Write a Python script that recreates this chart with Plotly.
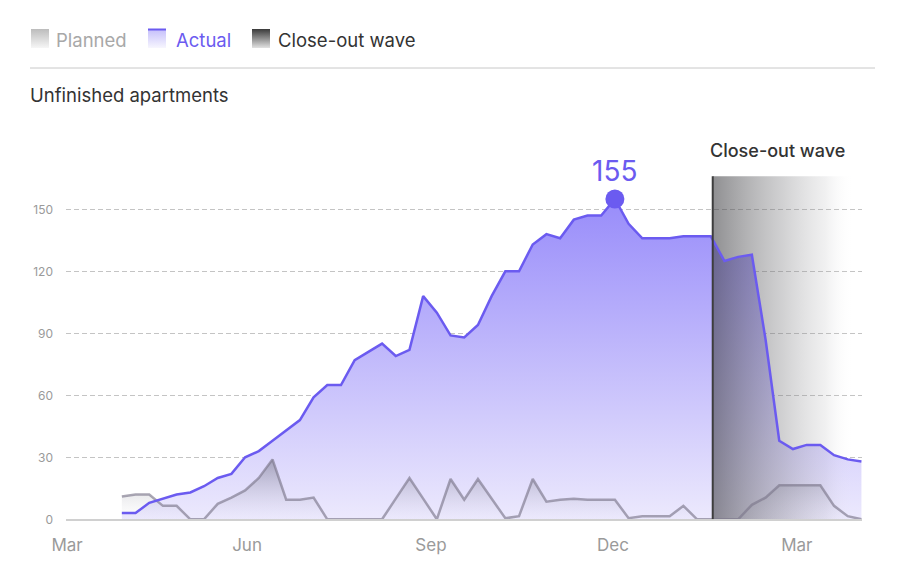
import plotly.graph_objects as go
import pandas as pd

# ---------------- data ----------------
start_date = "2023-03-29"
dates = pd.date_range(start_date, periods=55, freq="7D")

actual = [3, 3, 8, 10, 12, 13, 16, 20, 22, 30,
          33, 38, 43, 48, 59, 65, 65, 77, 81, 85,
          79, 82, 108, 100, 89, 88, 94, 108, 120, 120,
          133, 138, 136, 145, 147, 147, 155, 143, 136, 136,
          136, 137, 137, 137, 125, 127, 128, 87, 38, 34,
          36, 36, 31, 29, 28]

planned = [11, 12, 12, 6.5, 6.5, 0, 0, 7.5, 10.5, 14,
           20, 29, 9.5, 9.5, 10.5, 0, 0, 0, 0, 0,
           10, 20, 10, 0, 19.5, 9.5, 19.5, 10, 0.5, 1.5,
           19.5, 8.5, 9.5, 10, 9.5, 9.5, 9.5, 0.5, 1.5, 1.5,
           1.5, 6.5, 0, 0, 0, 0, 7, 10.5, 16.5, 16.5,
           16.5, 16.5, 6.5, 1.5, 0]

tick_dates = ["2023-03-01", "2023-06-01", "2023-09-03", "2023-12-05", "2024-03-08"]
tick_labels = ["Mar", "Jun", "Sep", "Dec", "Mar"]
y_ticks = [0, 30, 60, 90, 120, 150]

closeout_start = "2024-01-25"
closeout_end = "2024-04-06"
closeout_top = 166

x_range = ["2023-02-28 11:00", "2024-04-10 07:00"]
y_range = [0, 170]

# ---------------- styles ----------------
FONT = "Inter, Roboto, sans-serif"
PURPLE = "#6b5bf0"
W, H = 900, 586

peak_val = max(actual)
peak_date = dates[actual.index(peak_val)]

fig = go.Figure()

# actual area (gradient fill)
fig.add_trace(go.Scatter(
    x=dates, y=actual, mode="lines", fill="tozeroy",
    line=dict(width=0, color=PURPLE),
    fillgradient=dict(type="vertical", start=0, stop=peak_val,
                      colorscale=[[0, "rgba(236,233,253,1)"], [1, "rgba(152,140,250,1)"]]),
    showlegend=False, hoverinfo="skip"))

# planned area (gradient fill)
fig.add_trace(go.Scatter(
    x=dates, y=planned, mode="lines", fill="tozeroy",
    line=dict(width=0),
    fillgradient=dict(type="vertical", start=0, stop=max(planned),
                      colorscale=[[0, "rgba(190,190,200,0.0)"], [1, "rgba(105,105,118,0.5)"]]),
    showlegend=False, hoverinfo="skip"))

# close-out wave overlay (horizontal gradient)
fig.add_trace(go.Scatter(
    x=[closeout_start, closeout_end, closeout_end, closeout_start, closeout_start],
    y=[0, 0, closeout_top, closeout_top, 0],
    mode="lines", fill="toself", line=dict(width=0),
    fillgradient=dict(type="horizontal",
                      colorscale=[[0, "rgba(62,62,66,0.58)"], [0.5, "rgba(120,120,124,0.34)"],
                                  [0.8, "rgba(150,150,154,0.14)"], [1, "rgba(255,255,255,0)"]]),
    showlegend=False, hoverinfo="skip"))

# lines on top
fig.add_trace(go.Scatter(
    x=dates, y=planned, mode="lines",
    line=dict(width=2.5, color="rgba(125,120,140,0.65)"),
    showlegend=False, hoverinfo="skip"))
fig.add_trace(go.Scatter(
    x=dates, y=actual, mode="lines",
    line=dict(width=2.5, color=PURPLE),
    showlegend=False, hoverinfo="skip"))
fig.add_trace(go.Scatter(
    x=[peak_date], y=[peak_val], mode="markers",
    marker=dict(size=19, color=PURPLE),
    showlegend=False, hoverinfo="skip"))

# ---------------- custom legend (pixel axes) ----------------
def swatch(x0, top_col, bot_col):
    fig.add_trace(go.Scatter(
        x=[x0, x0 + 18, x0 + 18, x0, x0], y=[29, 29, 48, 48, 29],
        xaxis="x2", yaxis="y2", mode="lines", fill="toself",
        line=dict(width=0),
        fillgradient=dict(type="vertical", start=29, stop=48,
                          colorscale=[[0, top_col], [1, bot_col]]),
        showlegend=False, hoverinfo="skip"))

swatch(31, "#bcbcbc", "#f6f6f6")
swatch(148, "#c4befb", "#f7f6fe")
swatch(252, "#3a3a3a", "#e2e2e2")
fig.add_trace(go.Scatter(
    x=[148, 166], y=[29.5, 29.5], xaxis="x2", yaxis="y2", mode="lines",
    line=dict(width=2, color=PURPLE), showlegend=False, hoverinfo="skip"))

legend_items = [("Planned", 54, "#a8a8a8"), ("Actual", 174, PURPLE), ("Close-out wave", 276, "#333333")]
annotations = []
for txt, px, col in legend_items:
    annotations.append(dict(text=txt, x=px / W, y=1 - 40 / H, xref="paper", yref="paper",
                            xanchor="left", yanchor="middle", showarrow=False,
                            font=dict(family=FONT, size=18.5, color=col)))

annotations.append(dict(text="Unfinished apartments", x=28 / W, y=1 - 95 / H,
                        xref="paper", yref="paper", xanchor="left", yanchor="middle",
                        showarrow=False, font=dict(family=FONT, size=18.5, color="#333333")))

annotations.append(dict(text=str(peak_val), x=peak_date, y=peak_val, xref="x", yref="y",
                        yshift=28, xanchor="center", yanchor="middle", showarrow=False,
                        font=dict(family=FONT, size=28, color=PURPLE)))

annotations.append(dict(text="Close-out wave", x=closeout_start, y=closeout_top,
                        xref="x", yref="y", xanchor="left", yanchor="middle",
                        xshift=-5, yshift=26, showarrow=False,
                        font=dict(family=FONT, size=18, color="#333333", weight=500)))

shapes = [
    dict(type="line", xref="paper", yref="paper", x0=30 / W, x1=875 / W,
         y0=1 - 68 / H, y1=1 - 68 / H, line=dict(color="#c8c8c8", width=1)),
    dict(type="line", xref="x", yref="y", x0=closeout_start, x1=closeout_start,
         y0=0, y1=closeout_top, line=dict(color="#3d3d3d", width=2), layer="above"),
]

fig.update_layout(
    template="none",
    width=W, height=H,
    margin=dict(l=0, r=0, t=0, b=0, pad=0, autoexpand=False),
    paper_bgcolor="white", plot_bgcolor="rgba(0,0,0,0)",
    font=dict(family=FONT),
    xaxis=dict(domain=[66 / W, 862 / W], type="date", range=x_range, automargin=False,
               tickvals=tick_dates, ticktext=tick_labels,
               showgrid=False, zeroline=False, showline=True,
               linecolor="#d0d0d0", linewidth=1.5, ticks="",
               ticklabelstandoff=10,
               tickfont=dict(family=FONT, size=17, color="#9a9a9a")),
    yaxis=dict(domain=[(H - 519.3) / H, (H - 168) / H], range=y_range, automargin=False,
               tickvals=y_ticks, showgrid=True, gridcolor="#c4c4c4",
               griddash="5px,3px", gridwidth=1, zeroline=False, ticks="", showline=False,
               ticklabelstandoff=12,
               tickfont=dict(family=FONT, size=12, color="#9a9a9a")),
    xaxis2=dict(domain=[0, 1], range=[0, W], visible=False, anchor="y2",
                fixedrange=True, automargin=False),
    yaxis2=dict(domain=[0, 1], range=[H, 0], visible=False, anchor="x2",
                fixedrange=True, automargin=False),
    annotations=annotations,
    shapes=shapes,
    showlegend=False,
)

fig.write_html("out.html")
